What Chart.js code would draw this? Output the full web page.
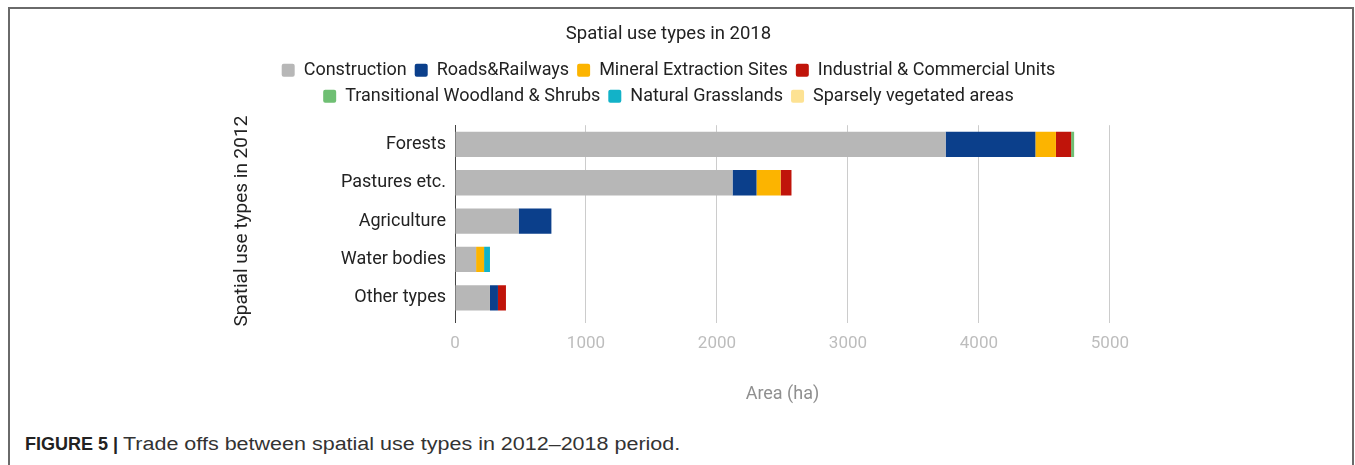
<!DOCTYPE html>
<html>
<head>
<meta charset="utf-8">
<script src="https://cdn.jsdelivr.net/npm/chart.js@4"></script>
<style>
  body { margin: 0; background: #fff; width: 1355px; height: 465px; overflow: hidden; position: relative; }
  #frame { position: absolute; left: 8px; top: 7px; width: 1342px; height: 480px;
           border: 2px solid #6a6a6a; border-bottom: none; }
  #wrap { position: absolute; left: 200px; top: 0px; width: 940px; height: 409px; }
  #caption { position: absolute; left: 25px; top: 435px; font-family: "Liberation Sans", Arial, sans-serif;
             font-size: 18px; line-height: 18px; color: #222; white-space: nowrap; }
  #caption b { font-weight: bold; }
  #caption span { display: inline-block; transform: scaleX(1.195); transform-origin: left center; color: #333; }
</style>
</head>
<body>
<div id="frame"></div>
<div id="wrap"><canvas id="barChart"></canvas></div>
<div id="caption"><b>FIGURE 5 |</b> <span>Trade offs between spatial use types in 2012–2018 period.</span></div>
<script>
const categories = ["Forests", "Pastures etc.", "Agriculture", "Water bodies", "Other types"];
const construction = [3746, 2119, 486, 161, 267];
const roadsRailways = [685, 183, 250, 0, 61];
const mineralSites = [157, 184, 0, 61, 0];
const industrialUnits = [116, 83, 0, 0, 61];
const transitionalWoodland = [23, 0, 0, 0, 0];
const naturalGrasslands = [0, 0, 0, 45, 0];
const sparselyVegetated = [0, 0, 0, 0, 0];
const xTicks = [0, 1000, 2000, 3000, 4000, 5000];

Chart.defaults.font.family = "Roboto, sans-serif";

// a bit more room under the legend, like the original
const legendGap = {
  id: "legendGap",
  beforeUpdate(chart) {
    const lg = chart.legend;
    if (lg && !lg._gapPatched) {
      const fit = lg.fit;
      lg.fit = function () {
        fit.call(this);
        this.height += 10;
      };
      lg._gapPatched = true;
    }
  },
};

const barChart = document.querySelector("#barChart");
const graph = new Chart(barChart, {
  type: "bar",
  data: {
    labels: categories,
    datasets: [
      { label: "Construction", data: construction, backgroundColor: "#b7b7b7" },
      { label: "Roads&Railways", data: roadsRailways, backgroundColor: "#0b3f8b" },
      { label: "Mineral Extraction Sites", data: mineralSites, backgroundColor: "#fcb400" },
      { label: "Industrial & Commercial Units", data: industrialUnits, backgroundColor: "#c0140a" },
      { label: "Transitional Woodland & Shrubs", data: transitionalWoodland, backgroundColor: "#6fbf73" },
      { label: "Natural Grasslands", data: naturalGrasslands, backgroundColor: "#12b2c8" },
      { label: "Sparsely vegetated areas", data: sparselyVegetated, backgroundColor: "#fde293" },
    ],
  },
  plugins: [legendGap],
  options: {
    indexAxis: "y",
    responsive: true,
    maintainAspectRatio: false,
    animation: false,
    datasets: { bar: { barPercentage: 0.66, categoryPercentage: 1, borderWidth: 0 } },
    layout: { padding: { left: 27, right: 30, top: 13, bottom: 0 } },
    plugins: {
      title: {
        display: true,
        text: "Spatial use types in 2018",
        color: "#222",
        font: { size: 18.5, weight: "normal" },
        padding: { top: 10, bottom: 8 },
      },
      legend: {
        position: "top",
        labels: {
          color: "#222",
          font: { size: 18 },
          boxWidth: 13,
          boxHeight: 13,
          useBorderRadius: true,
          borderRadius: 2,
          padding: 8,
        },
      },
      tooltip: { enabled: false },
    },
    scales: {
      x: {
        stacked: true,
        min: 0,
        max: 5000,
        afterBuildTicks: (axis) => { axis.ticks = xTicks.map((v) => ({ value: v })); },
        border: { display: false },
        grid: {
          color: "#cccccc",
          drawTicks: true,
          tickLength: 6,
          tickColor: (ctx) => (ctx.index === 0 ? "#444" : "#cccccc"),
        },
        ticks: { color: "#bdbdbd", font: { size: 17 }, padding: 11, callback: (v) => String(v) },
        title: {
          display: true,
          text: "Area (ha)",
          color: "#8f8f8f",
          font: { size: 18 },
          padding: { top: 18, bottom: 4 },
        },
      },
      y: {
        stacked: true,
        afterFit: (scale) => { scale.width = 228; },
        border: { display: true, color: "#444", width: 1 },
        grid: { display: false, drawTicks: false },
        ticks: { color: "#222", font: { size: 18 }, padding: 9 },
        title: {
          display: true,
          text: "Spatial use types in 2012",
          color: "#222",
          font: { size: 19 },
          padding: { top: 4, bottom: 4 },
        },
      },
    },
  },
});
</script>
</body>
</html>
